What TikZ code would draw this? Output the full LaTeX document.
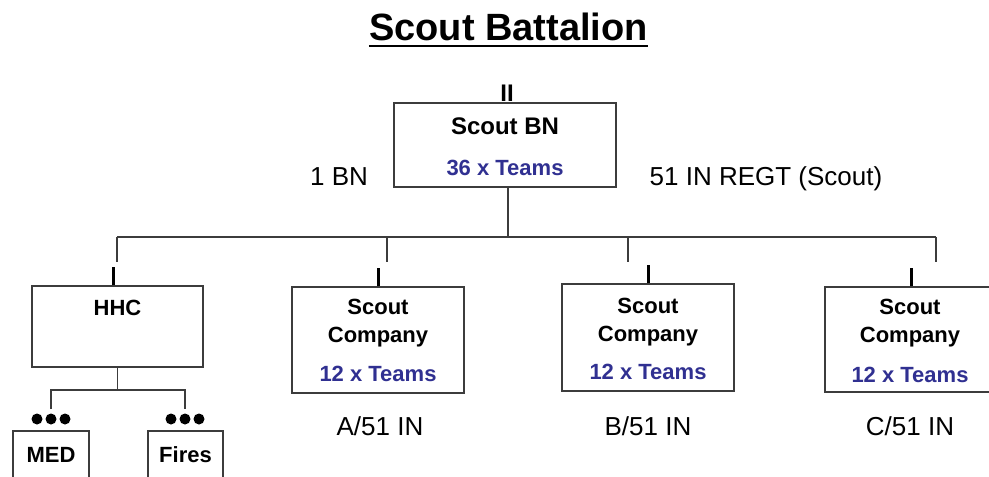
\documentclass[tikz,border=0pt]{standalone}
\usepackage{fontspec}
\setmainfont{Liberation Sans}
\definecolor{teamblue}{RGB}{48,48,145}
\definecolor{linegray}{RGB}{60,60,60}
\begin{document}
\begin{tikzpicture}[x=1pt,y=-1pt,
  box/.style={draw=linegray,line width=1.2pt,fill=white,inner sep=0pt},
  btxt/.style={anchor=base,inner sep=0pt,font=\fontsize{22}{26}\selectfont\bfseries},
  ttxt/.style={anchor=base,inner sep=0pt,text=teamblue,font=\fontsize{22}{26}\selectfont\bfseries},
  lbl/.style={anchor=base,inner sep=0pt,font=\fontsize{26}{30}\selectfont},
  conn/.style={draw=linegray,line width=1.1pt},
  tick/.style={draw=black,line width=3pt},
  dot/.style={circle,fill=black,inner sep=0pt,minimum size=11pt}]
\useasboundingbox (0,0) rectangle (989,477);
\clip (0,0) rectangle (989,477);
\fill[white] (0,0) rectangle (989,477);
% title
\node[anchor=base,inner sep=0pt,font=\fontsize{38}{44}\selectfont\bfseries] (title) at (508.5,40) {Scout Battalion};
\draw[line width=2.5pt] (title.base west) ++(0,6) coordinate (ul1) -- (title.base east |- ul1);
% battalion
\node[box,minimum width=222pt,minimum height=84pt] (bn) at (505,145) {};
\node[btxt,font=\fontsize{24}{28}\selectfont\bfseries] (bnname) at (505,134) {Scout BN};
\node[ttxt] (bnteams) at (505,175) {36 x Teams};
\node[btxt,font=\fontsize{24}{28}\selectfont\bfseries] (bnsym) at (507,101) {II};
\node[lbl] (bnl) at (339,185) {1 BN};
\node[lbl] (bnr) at (766,185) {51 IN REGT (Scout)};
% companies
\node[box,minimum width=171pt,minimum height=81pt] (hhc) at (117.5,326.5) {};
\node[btxt] (hhct) at (117.5,315) {HHC};
\node[box,minimum width=172pt,minimum height=106pt] (ca) at (378,340) {};
\node[btxt] (ca1) at (378,314) {Scout};
\node[btxt] (ca2) at (378,342) {Company};
\node[ttxt] (ca3) at (378,381) {12 x Teams};
\node[box,minimum width=172pt,minimum height=107pt] (cb) at (648,337.5) {};
\node[btxt] (cb1) at (648,313) {Scout};
\node[btxt] (cb2) at (648,341) {Company};
\node[ttxt] (cb3) at (648,379) {12 x Teams};
\node[box,minimum width=172pt,minimum height=105pt] (cc) at (911,339.5) {};
\node[btxt] (cc1) at (910,314) {Scout};
\node[btxt] (cc2) at (910,342) {Company};
\node[ttxt] (cc3) at (910,382) {12 x Teams};
\node[lbl] (la) at (380,435) {A/51 IN};
\node[lbl] (lb) at (648,435) {B/51 IN};
\node[lbl] (lc) at (910,435) {C/51 IN};
% platoons
\node[box,minimum width=76pt,minimum height=60pt] (med) at (51,461) {};
\node[btxt] (medt) at (51,462) {MED};
\node[box,minimum width=75pt,minimum height=60pt] (fires) at (185.5,461) {};
\node[btxt] (firest) at (185.5,462) {Fires};
\foreach \c/\n in {51/m,185/f}{
  \node[dot] (\n1) at (\c-14,419) {};
  \node[dot] (\n2) at (\c,419) {};
  \node[dot] (\n3) at (\c+14,419) {};
}
% connectors
\coordinate (j) at (508,237);
\coordinate (bl) at (117,237);
\coordinate (br) at (936,237);
\draw[conn] (bn.south -| j) -- (j);
\draw[conn,line width=1.5pt] (bl) -- (br);
\foreach \x/\n in {117/dh,387/da,628/db,936/dc}{
  \coordinate (\n) at (\x,262);
  \draw[conn] (\x,237) -- (\n);
}
\draw[tick] (hhc.north) ++(-4,0) -- ++(0,-18);
\foreach \n in {ca,cb,cc}{
  \draw[tick] (\n.north) -- ++(0,-18);
}
\coordinate (hj) at (117.5,390);
\draw[conn] (hhc.south) -- (hj);
\draw[conn] (51,409) -- (51,390) -- (185,390) -- (185,409);
\end{tikzpicture}
\end{document}
